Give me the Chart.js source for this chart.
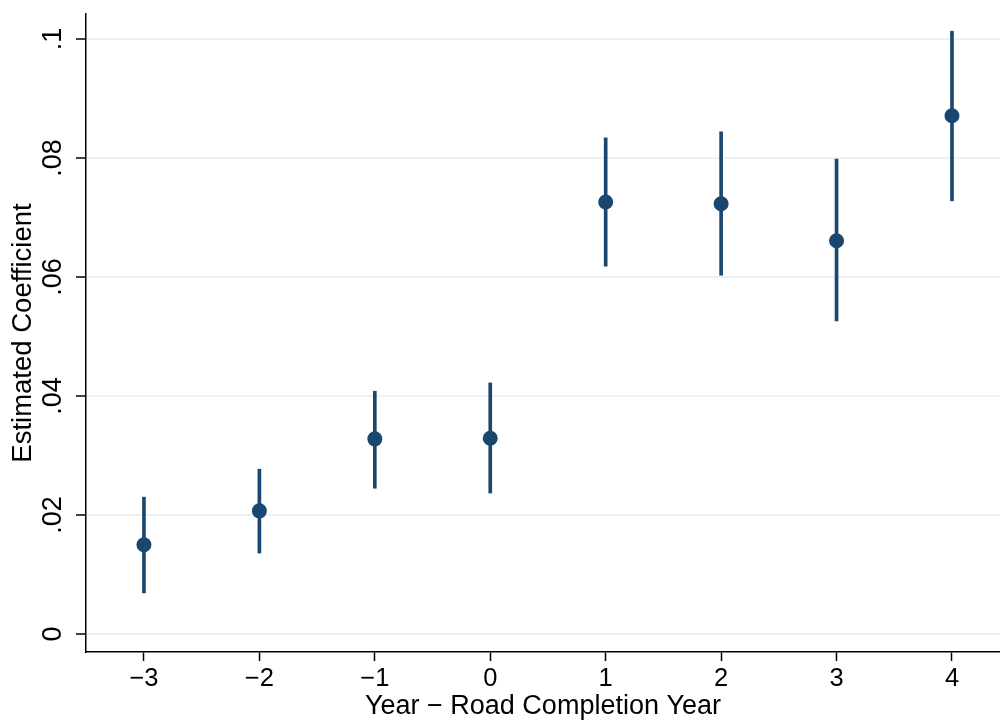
<!DOCTYPE html>
<html>
<head>
<meta charset="utf-8">
<script src="https://cdn.jsdelivr.net/npm/chart.js@4.4.1/dist/chart.umd.min.js"></script>
<style>
html,body{margin:0;padding:0;background:#fff;}
#wrap{width:1000px;height:721px;}
</style>
</head>
<body>
<div id="wrap"><canvas id="c" width="1000" height="721"></canvas></div>
<script>
const years = [-3, -2, -1, 0, 1, 2, 3, 4];
const coef  = [0.0150, 0.0207, 0.0328, 0.0329, 0.0726, 0.0723, 0.0661, 0.0871];
const ciLow = [0.0069, 0.0136, 0.0245, 0.0237, 0.0618, 0.0603, 0.0526, 0.0728];
const ciHigh= [0.0230, 0.0277, 0.0408, 0.0422, 0.0834, 0.0844, 0.0798, 0.1013];
const xTicks = [-3, -2, -1, 0, 1, 2, 3, 4];
const xTickLabels = ['\u22123', '\u22122', '\u22121', '0', '1', '2', '3', '4'];
const yTicks = [0, 0.02, 0.04, 0.06, 0.08, 0.1];
const yTickLabels = ['0', '.02', '.04', '.06', '.08', '.1'];
const xTitle = 'Year \u2212 Road Completion Year';
const yTitle = 'Estimated Coefficient';

const navy = '#1a476f';
const FONT = "'Liberation Sans', Arial, sans-serif";

function zeroPad(s) { s.paddingLeft = 0; s.paddingRight = 0; s.paddingTop = 0; s.paddingBottom = 0; }

new Chart(document.getElementById('c'), {
  type: 'bar',
  data: {
    datasets: [
      {
        type: 'scatter',
        order: 0,
        data: years.map((x, i) => ({x: x, y: coef[i]})),
        backgroundColor: navy,
        borderColor: navy,
        pointRadius: 7.5,
        pointBorderWidth: 0
      },
      {
        type: 'bar',
        order: 1,
        data: years.map((x, i) => ({x: x, y: [ciLow[i], ciHigh[i]]})),
        backgroundColor: navy,
        borderWidth: 0,
        barThickness: 3
      }
    ]
  },
  options: {
    responsive: false,
    animation: false,
    events: [],
    layout: {autoPadding: false, padding: {top: 14, left: 0, right: 0, bottom: 0}},
    plugins: {legend: {display: false}, tooltip: {enabled: false}},
    scales: {
      x: {
        type: 'linear',
        min: -3.502,
        max: 4.416,
        offset: false,
        afterBuildTicks: s => { s.ticks = xTicks.map(v => ({value: v})); },
        afterFit: s => { s.height = 69; zeroPad(s); },
        grid: {offset: false, drawOnChartArea: false, drawTicks: true, tickLength: 9, tickColor: '#000', tickWidth: 1.5},
        border: {display: true, color: '#000', width: 1.5},
        ticks: {
          padding: 3,
          color: '#000',
          font: {family: FONT, size: 25.5},
          maxRotation: 0,
          autoSkip: false,
          callback: (v, i) => xTickLabels[i]
        },
        title: {display: true, text: xTitle, color: '#000', font: {family: FONT, size: 27}, padding: {top: 0, bottom: -2}}
      },
      y: {
        type: 'linear',
        min: -0.003025,
        max: 0.1042,
        afterBuildTicks: s => { s.ticks = yTicks.map(v => ({value: v})); },
        afterFit: s => { s.width = 86; zeroPad(s); },
        grid: {color: '#eaf2f3', lineWidth: 2, drawTicks: true, tickLength: 10, tickColor: '#000', tickWidth: 1.5},
        border: {display: true, color: '#000', width: 1.5},
        ticks: {
          padding: 4,
          color: '#000',
          font: {family: FONT, size: 27},
          minRotation: 90,
          maxRotation: 90,
          crossAlign: 'center',
          autoSkip: false,
          callback: (v, i) => yTickLabels[i]
        },
        title: {display: true, text: yTitle, color: '#000', font: {family: FONT, size: 27.5}, padding: {top: 7, bottom: 0}}
      }
    }
  }
});
</script>
</body>
</html>
